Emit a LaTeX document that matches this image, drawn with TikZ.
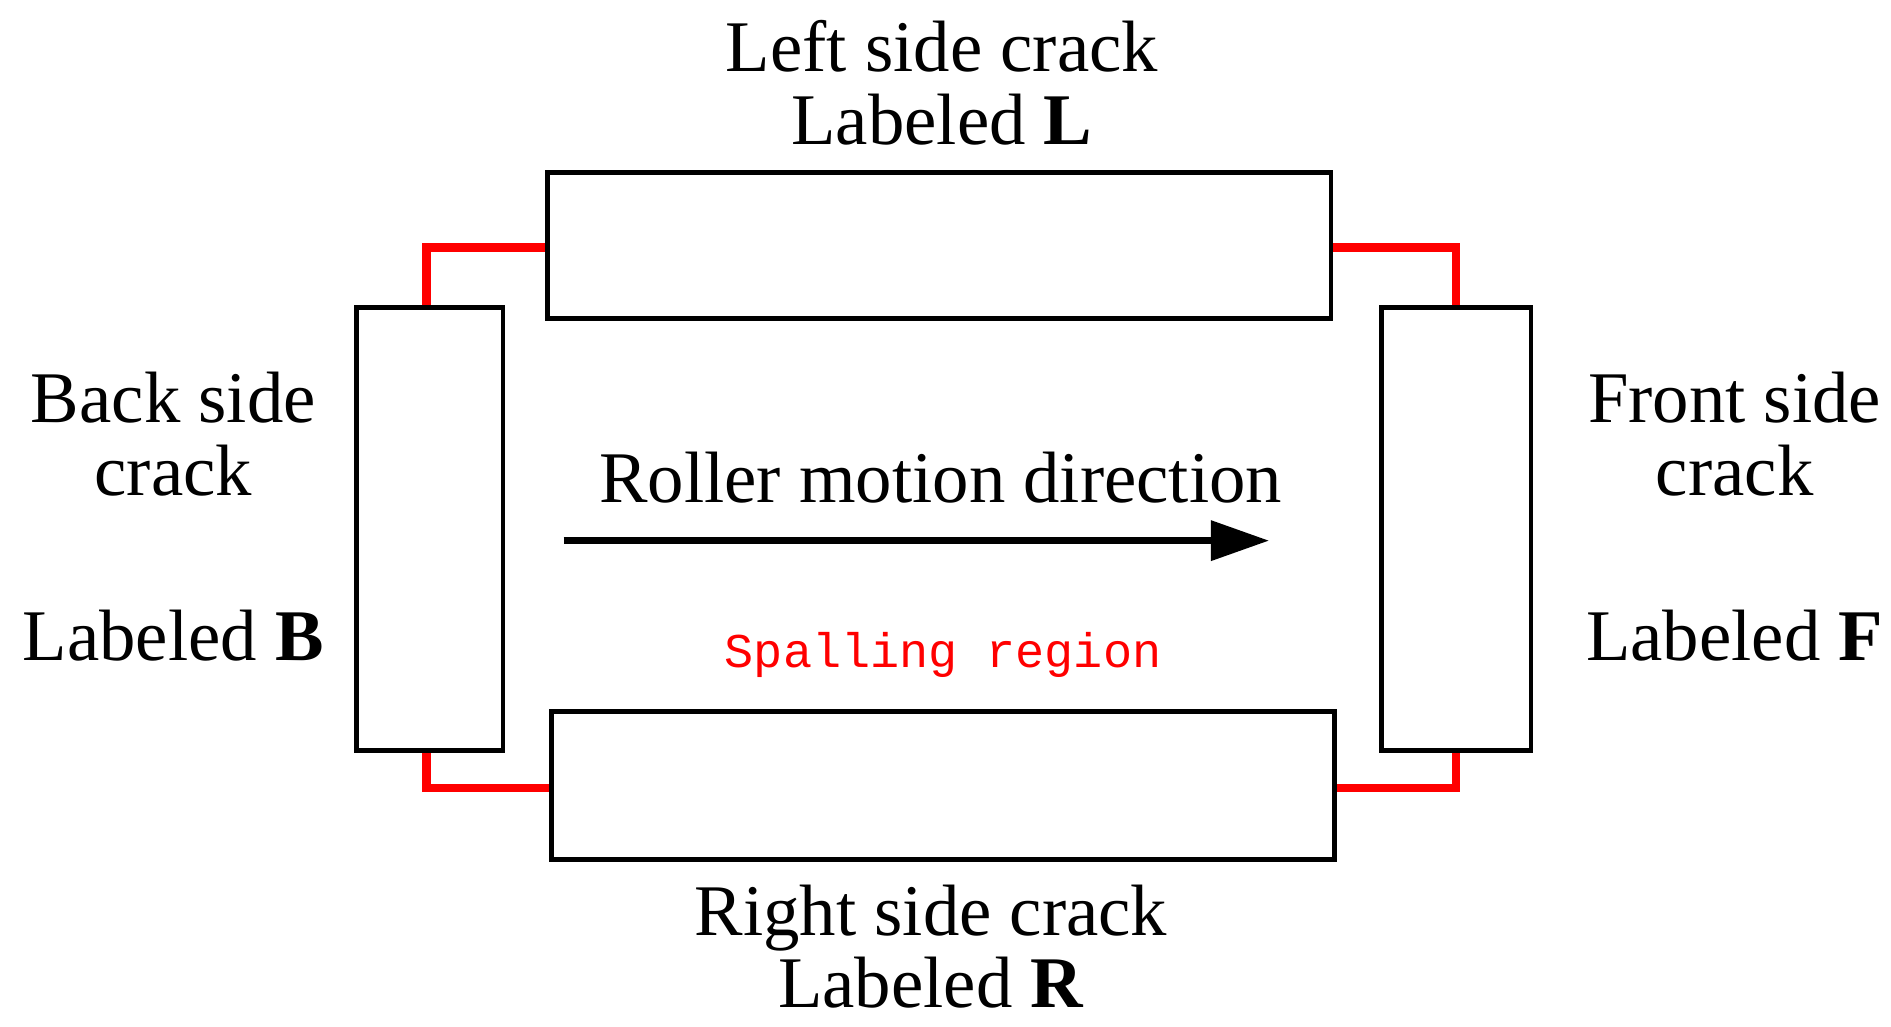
\documentclass[tikz,border=0pt]{standalone}
\usepackage{fontspec}
\setmainfont{Liberation Serif}
\newfontfamily\monof{Liberation Mono}
\usetikzlibrary{arrows.meta}
\begin{document}
\begin{tikzpicture}[x=1pt,y=-1pt,
  box/.style={draw=black,line width=4pt,fill=white,inner sep=0pt},
  link/.style={draw=red,line width=7pt,line cap=butt},
  lbl/.style={font=\fontsize{60}{60}\selectfont,align=center,inner sep=0pt}]
\useasboundingbox (0,0) rectangle (1560,847);
\draw[link] (450,204) -| (352,252);
\draw[link] (1100,204) -| (1201,252);
\draw[link] (453,650) -| (352,621);
\draw[link] (1103,650) -| (1201,621);
\node[box,minimum width=646pt,minimum height=121pt] (L) at (775,202.5) {};
\node[box,minimum width=646pt,minimum height=122pt] (R) at (778,648) {};
\node[box,minimum width=121pt,minimum height=365pt] (B) at (354.5,436.5) {};
\node[box,minimum width=123pt,minimum height=365pt] (F) at (1201.5,436.5) {};
\node[lbl] at (777,68) {Left side crack\\Labeled \textbf{L}};
\node[lbl] at (768,781) {Right side crack\\Labeled \textbf{R}};
\node[lbl] at (143,358) {Back side\\crack};
\node[lbl] at (143,524) {Labeled \textbf{B}};
\node[lbl] at (1431,358) {Front side\\crack};
\node[lbl] at (1431,524) {Labeled \textbf{F}};
\node[lbl] at (776,394) {Roller motion direction};
\node[inner sep=0pt,text=red,font=\monof\fontsize{40}{48}\selectfont] at (778,540) {Spalling region};
\coordinate (a1) at (465,446);
\coordinate (a2) at (1047,446);
\draw[line width=6pt,-{Triangle[length=48pt,width=32pt]}] (a1) -- (a2);
\end{tikzpicture}
\end{document}
